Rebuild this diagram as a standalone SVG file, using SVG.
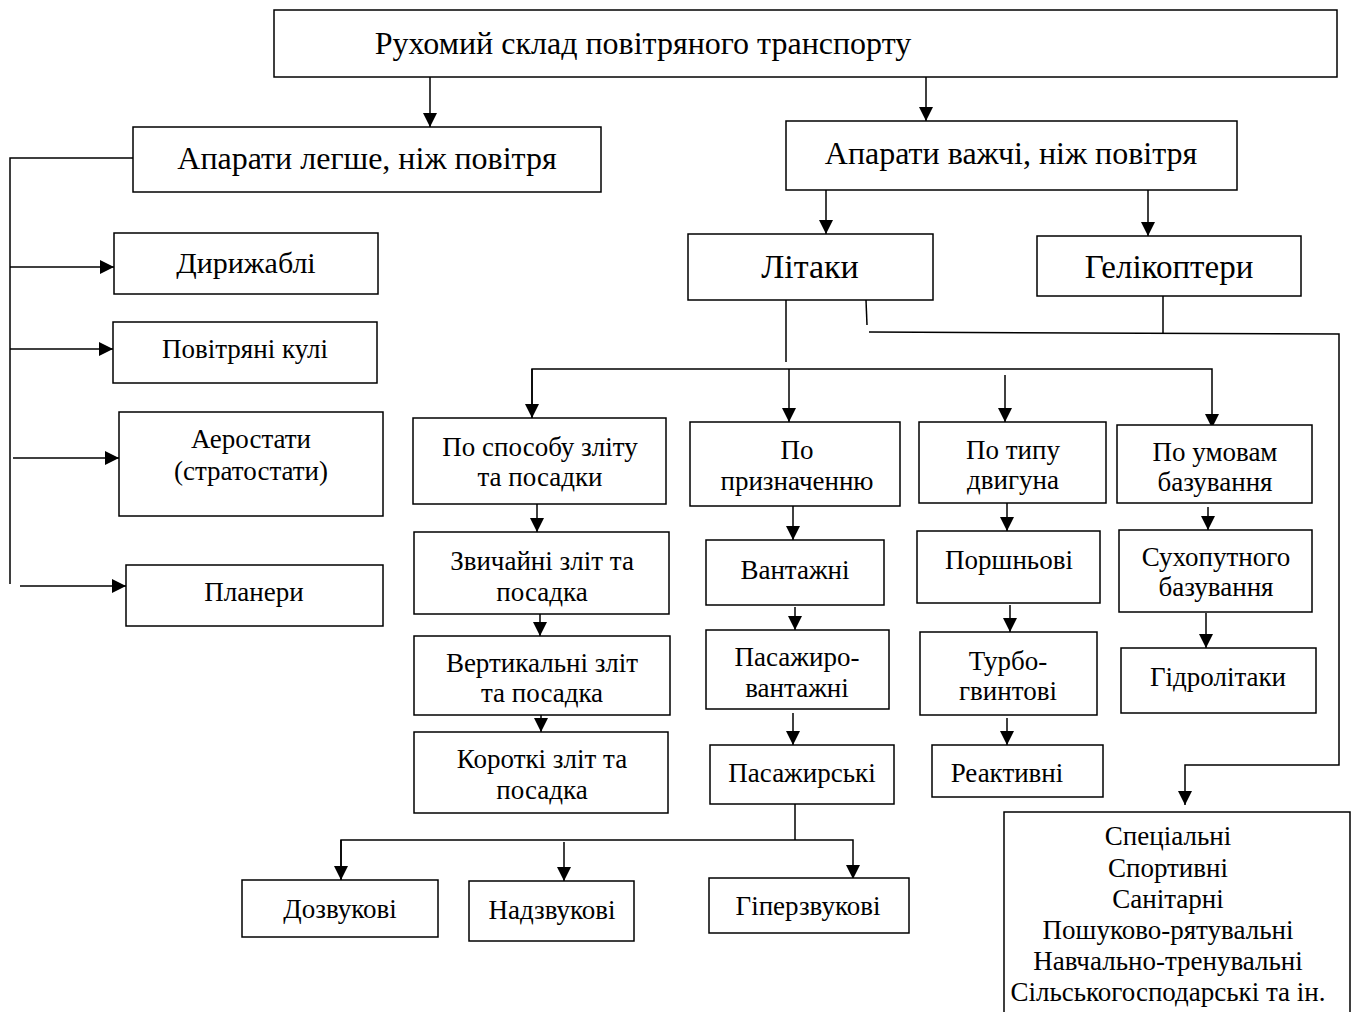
<svg xmlns="http://www.w3.org/2000/svg" width="1351" height="1012" viewBox="0 0 1351 1012">
<style>
.b{fill:#fff;stroke:#000;stroke-width:1.5}
.t{font-family:"Liberation Serif","Times New Roman",serif;fill:#000;text-anchor:middle}
.l{font-size:32px}
.m{font-size:27px}
.s{font-size:27px}
.c{fill:none;stroke:#000;stroke-width:1.5}
</style>
<defs>
<marker id="ah" markerUnits="userSpaceOnUse" markerWidth="14" markerHeight="16" refX="14" refY="7" orient="auto">
<path d="M0,0 L14,7 L0,14 Z" fill="#000"/>
</marker>
</defs>
<rect width="1351" height="1012" fill="#fff"/>
<g id="connectors">
<path class="c" d="M430,77 V127" marker-end="url(#ah)"/>
<path class="c" d="M926,77 V121" marker-end="url(#ah)"/>
<path class="c" d="M133,158 H10 V584"/>
<path class="c" d="M10,267 H114" marker-end="url(#ah)"/>
<path class="c" d="M10,349 H113" marker-end="url(#ah)"/>
<path class="c" d="M13,458 H119" marker-end="url(#ah)"/>
<path class="c" d="M20,586 H126" marker-end="url(#ah)"/>
<path class="c" d="M826,190 V234" marker-end="url(#ah)"/>
<path class="c" d="M1148,190 V236" marker-end="url(#ah)"/>
<path class="c" d="M866,300 L867,325"/>
<path class="c" d="M869,332 L1339,334 V765 H1185 V805" marker-end="url(#ah)"/>
<path class="c" d="M1163,296 V333"/>
<path class="c" d="M786,300 V362"/>
<path class="c" d="M532,418 V369 H1212 V428" marker-end="url(#ah)"/>
<path class="c" d="M532,369 V418" marker-end="url(#ah)"/>
<path class="c" d="M789,369 V422" marker-end="url(#ah)"/>
<path class="c" d="M1005,375 V422" marker-end="url(#ah)"/>
<path class="c" d="M537,504 V532" marker-end="url(#ah)"/>
<path class="c" d="M540,614 V636" marker-end="url(#ah)"/>
<path class="c" d="M541,715 V732" marker-end="url(#ah)"/>
<path class="c" d="M793,506 V540" marker-end="url(#ah)"/>
<path class="c" d="M795,607 V630" marker-end="url(#ah)"/>
<path class="c" d="M793,713 V745" marker-end="url(#ah)"/>
<path class="c" d="M1007,503 V531" marker-end="url(#ah)"/>
<path class="c" d="M1010,605 V632" marker-end="url(#ah)"/>
<path class="c" d="M1007,718 V745" marker-end="url(#ah)"/>
<path class="c" d="M1208,507 V530" marker-end="url(#ah)"/>
<path class="c" d="M1206,613 V648" marker-end="url(#ah)"/>
<path class="c" d="M795,804 V840"/>
<path class="c" d="M341,880 V840 H853 V879" marker-end="url(#ah)"/>
<path class="c" d="M341,840 V880" marker-end="url(#ah)"/>
<path class="c" d="M564,842 V881" marker-end="url(#ah)"/>
</g>
<g id="n-root"><rect class="b" x="274" y="10" width="1063" height="67"/><text class="t l" x="643" y="54">Рухомий склад повітряного транспорту</text></g>
<g id="n-lighter"><rect class="b" x="133" y="127" width="468" height="65"/><text class="t l" x="367" y="169">Апарати легше, ніж повітря</text></g>
<g id="n-heavier"><rect class="b" x="786" y="121" width="451" height="69"/><text class="t l" x="1011" y="164">Апарати важчі, ніж повітря</text></g>
<g id="n-dirigible"><rect class="b" x="114" y="233" width="264" height="61"/><text class="t" style="font-size:30px" x="246" y="273">Дирижаблі</text></g>
<g id="n-balloons"><rect class="b" x="113" y="322" width="264" height="61"/><text class="t s" x="245" y="358">Повітряні кулі</text></g>
<g id="n-aerostats"><rect class="b" x="119" y="412" width="264" height="104"/><text class="t s" x="251" y="448">Аеростати</text><text class="t s" x="251" y="480">(стратостати)</text></g>
<g id="n-gliders"><rect class="b" x="126" y="565" width="257" height="61"/><text class="t s" x="254" y="601">Планери</text></g>
<g id="n-planes"><rect class="b" x="688" y="234" width="245" height="66"/><text class="t" style="font-size:34px" x="810" y="278">Літаки</text></g>
<g id="n-heli"><rect class="b" x="1037" y="236" width="264" height="60"/><text class="t" style="font-size:33px" x="1169" y="278">Гелікоптери</text></g>
<g id="n-takeoff"><rect class="b" x="413" y="418" width="253" height="86"/><text class="t m" x="540" y="456">По способу зліту</text><text class="t m" x="540" y="486">та посадки</text></g>
<g id="n-purpose"><rect class="b" x="690" y="422" width="210" height="84"/><text class="t m" x="797" y="459">По</text><text class="t m" x="797" y="490">призначенню</text></g>
<g id="n-engine"><rect class="b" x="919" y="422" width="187" height="81"/><text class="t m" x="1013" y="459">По типу</text><text class="t m" x="1013" y="489">двигуна</text></g>
<g id="n-basing"><rect class="b" x="1117" y="425" width="195" height="78"/><text class="t m" x="1215" y="461">По умовам</text><text class="t m" x="1215" y="491">базування</text></g>
<g id="n-normal"><rect class="b" x="414" y="532" width="255" height="82"/><text class="t m" x="542" y="570">Звичайні зліт та</text><text class="t m" x="542" y="601">посадка</text></g>
<g id="n-vertical"><rect class="b" x="414" y="636" width="256" height="79"/><text class="t m" x="542" y="672">Вертикальні зліт</text><text class="t m" x="542" y="702">та посадка</text></g>
<g id="n-short"><rect class="b" x="414" y="732" width="254" height="81"/><text class="t m" x="542" y="768">Короткі зліт та</text><text class="t m" x="542" y="799">посадка</text></g>
<g id="n-cargo"><rect class="b" x="706" y="540" width="178" height="65"/><text class="t m" x="795" y="579">Вантажні</text></g>
<g id="n-paxcargo"><rect class="b" x="706" y="630" width="183" height="79"/><text class="t m" x="797" y="666">Пасажиро-</text><text class="t m" x="797" y="697">вантажні</text></g>
<g id="n-pax"><rect class="b" x="710" y="745" width="184" height="59"/><text class="t m" x="802" y="782">Пасажирські</text></g>
<g id="n-piston"><rect class="b" x="917" y="531" width="183" height="72"/><text class="t m" x="1009" y="569">Поршньові</text></g>
<g id="n-turbo"><rect class="b" x="920" y="632" width="177" height="83"/><text class="t m" x="1008" y="670">Турбо-</text><text class="t m" x="1008" y="700">гвинтові</text></g>
<g id="n-jet"><rect class="b" x="932" y="745" width="171" height="52"/><text class="t m" x="1007" y="782">Реактивні</text></g>
<g id="n-land"><rect class="b" x="1119" y="530" width="193" height="82"/><text class="t m" x="1216" y="566">Сухопутного</text><text class="t m" x="1216" y="596">базування</text></g>
<g id="n-hydro"><rect class="b" x="1121" y="648" width="195" height="65"/><text class="t m" x="1218" y="686">Гідролітаки</text></g>
<g id="n-subsonic"><rect class="b" x="242" y="880" width="196" height="57"/><text class="t m" x="340" y="918">Дозвукові</text></g>
<g id="n-supersonic"><rect class="b" x="469" y="881" width="165" height="60"/><text class="t m" x="552" y="919">Надзвукові</text></g>
<g id="n-hypersonic"><rect class="b" x="709" y="878" width="200" height="55"/><text class="t m" x="808" y="915">Гіперзвукові</text></g>
<g id="n-special"><rect class="b" x="1004" y="812" width="346" height="210"/>
<text class="t m" x="1168" y="845">Спеціальні</text>
<text class="t m" x="1168" y="877">Спортивні</text>
<text class="t m" x="1168" y="908">Санітарні</text>
<text class="t m" x="1168" y="939">Пошуково-рятувальні</text>
<text class="t m" x="1168" y="970">Навчально-тренувальні</text>
<text class="t m" x="1168" y="1001">Сільськогосподарські та ін.</text>
</g>
</svg>
